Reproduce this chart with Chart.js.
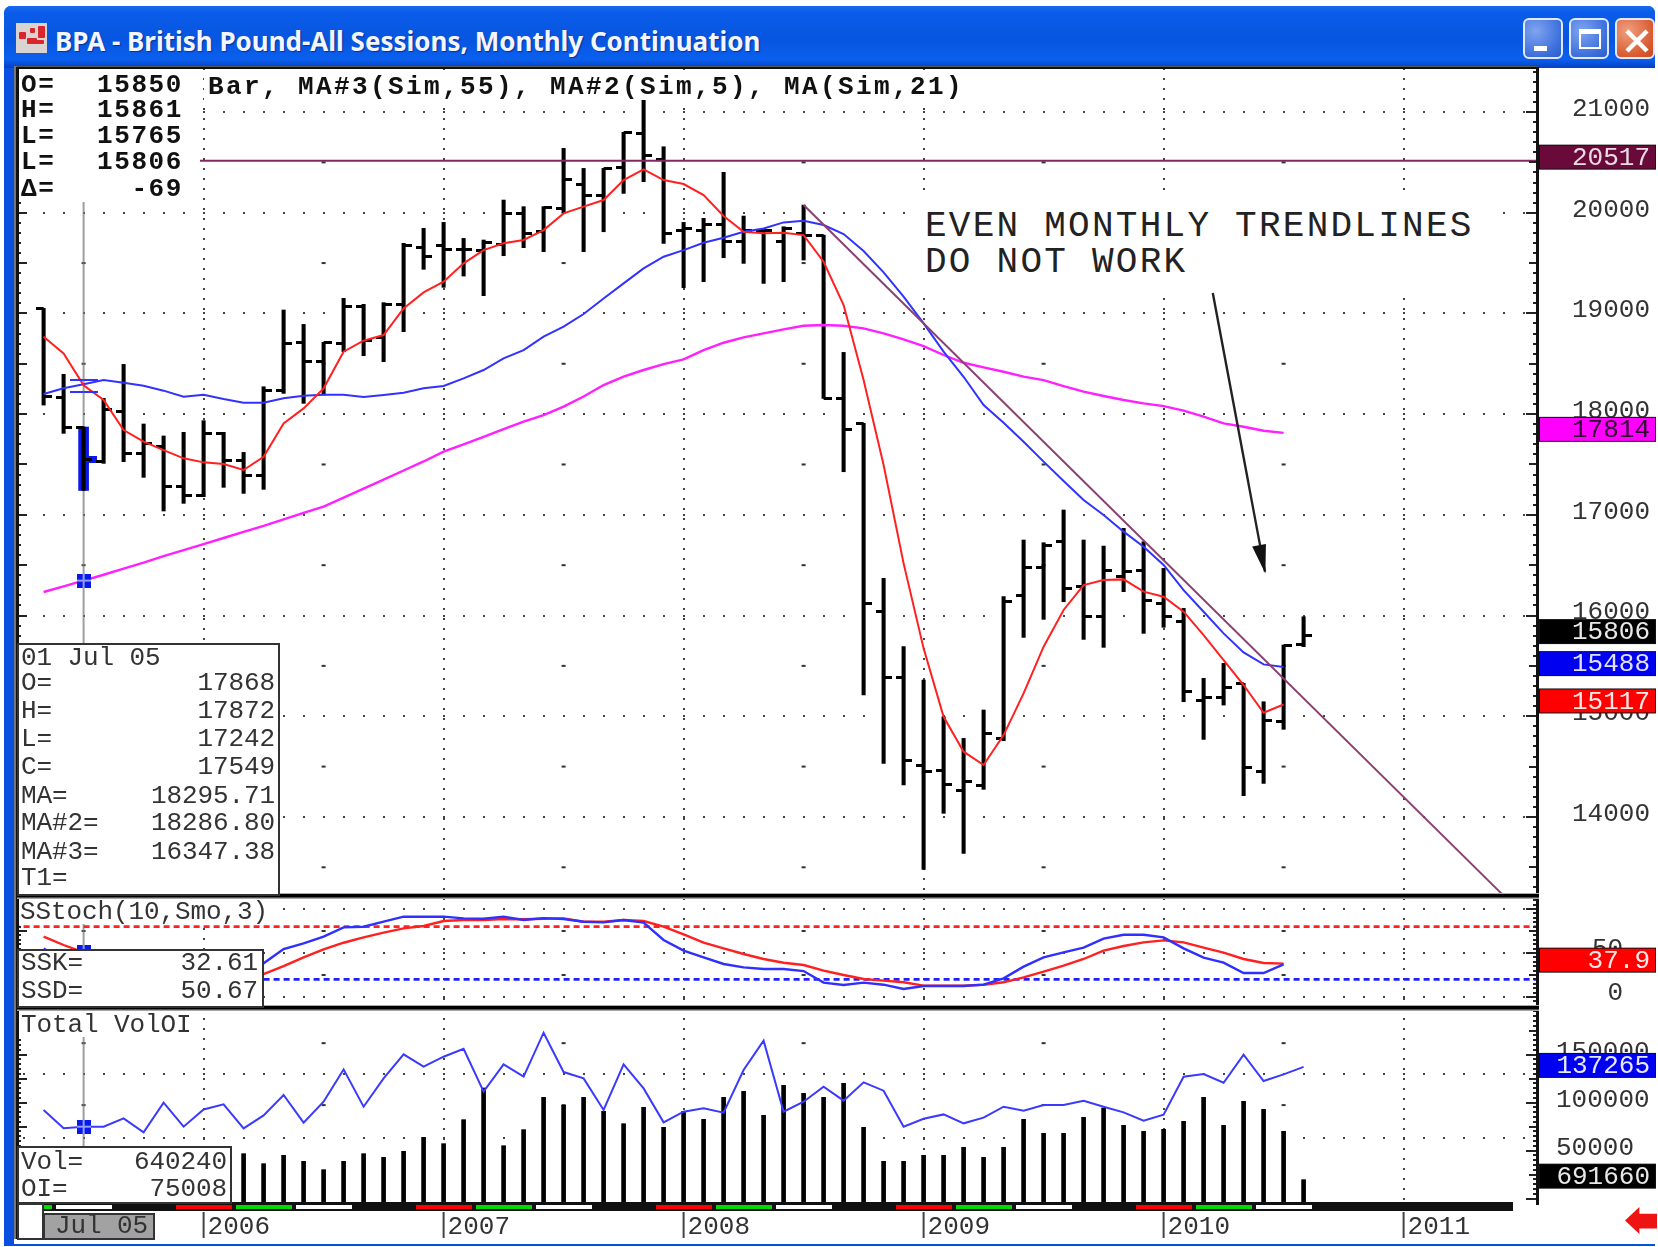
<!DOCTYPE html>
<html>
<head>
<meta charset="utf-8">
<script src="https://cdn.jsdelivr.net/npm/chart.js@4/dist/chart.umd.min.js"></script>
<style>
html,body{margin:0;padding:0;background:#fff;width:1658px;height:1247px;overflow:hidden}
#app{position:absolute;left:0;top:0;width:1658px;height:1247px;filter:blur(.45px)}
#win{position:absolute;left:4px;top:6px;width:1651px;height:1240px;background:#0a50e0;border-radius:7px 7px 0 0}
#titlebar{position:absolute;left:4px;top:6px;width:1651px;height:62px;border-radius:7px 7px 0 0;background:linear-gradient(#1668ee 0,#0a5ce8 12%,#0755e0 55%,#0a60ee 86%,#0340c4 100%)}
#client{position:absolute;left:14px;top:68px;width:1641px;height:1176px;background:#fff}
#ttl{position:absolute;left:55px;top:23px;font:bold 26px "Noto Sans";color:#f4f6ff;text-shadow:1px 1px 1px #08309a;white-space:nowrap}
#ico{position:absolute;left:16px;top:23px;width:31px;height:30px;background:#d9d4cf;overflow:hidden}
#ico i{position:absolute;background:#d8262c;border-radius:1px}
.btn{position:absolute;top:18px;width:40px;height:41px;box-sizing:border-box;border:2px solid #dfe9ff;border-radius:6px;background:radial-gradient(circle at 30% 30%,#7fa4f0,#3c6fdc 70%,#2c5ccc)}
#bmin i{position:absolute;left:9px;top:26px;width:13px;height:5px;background:#fff}
#bmax i{position:absolute;left:8px;top:9px;width:22px;height:20px;box-sizing:border-box;border:2px solid #fff;border-top-width:5px}
#bcl{background:radial-gradient(circle at 30% 30%,#f0a080,#d85a30 70%,#c84a20)}
#bcl svg{position:absolute;left:7px;top:8px}
canvas{position:absolute;left:0;top:0}
.t{position:absolute;font:26px "Liberation Mono";color:#333;white-space:pre;line-height:28px;letter-spacing:-.1px}
.r{text-align:right}
.b{font-weight:bold;color:#111;letter-spacing:1.6px}
.box{position:absolute;background:#fff;box-sizing:border-box;border:2px solid #333}
.plain{position:absolute;background:#fff}
#jul{position:absolute;left:43px;top:1213px;width:112px;height:27px;background:#a2a2a2;box-sizing:border-box;border:2px solid #333}
#sq{position:absolute;left:17px;top:1203px;width:27px;height:37px;background:#fff;box-sizing:border-box;border:2px solid #333}
#back{position:absolute;left:1625px;top:1207px;width:32px;height:27px;background:#ee1414;clip-path:polygon(0 50%,45% 0,45% 25%,100% 25%,100% 80%,45% 80%,45% 100%)}
</style>
</head>
<body>
<div id="app">
<div id="win"></div>
<div id="titlebar"></div>
<div id="client"></div>
<div id="ico"><i style="left:3px;top:9px;width:7px;height:7px"></i><i style="left:14px;top:5px;width:5px;height:5px"></i><i style="left:22px;top:3px;width:7px;height:12px"></i><i style="left:11px;top:15px;width:10px;height:6px"></i><i style="left:20px;top:17px;width:8px;height:4px"></i></div>
<div id="ttl">BPA - British Pound-All Sessions, Monthly Continuation</div>
<div class="btn" id="bmin" style="left:1523px"><i></i></div>
<div class="btn" id="bmax" style="left:1569px"><i></i></div>
<div class="btn" id="bcl" style="left:1615px"><svg width="26" height="26"><path d="M3 3L23 23M23 3L3 23" stroke="#fff" stroke-width="4.5"/></svg></div>
<canvas id="c" width="1658" height="1247"></canvas>

<div class="plain" style="left:19px;top:70px;width:181px;height:130px"></div>
<div class="t b" style="left:21px;top:71px">O=</div><div class="t b r" style="left:83px;width:100px;top:71px">15850</div>
<div class="t b" style="left:21px;top:96px">H=</div><div class="t b r" style="left:83px;width:100px;top:96px">15861</div>
<div class="t b" style="left:21px;top:122px">L=</div><div class="t b r" style="left:83px;width:100px;top:122px">15765</div>
<div class="t b" style="left:21px;top:148px">L=</div><div class="t b r" style="left:83px;width:100px;top:148px">15806</div>
<div class="t b" style="left:21px;top:175px">&#916;=</div><div class="t b r" style="left:83px;width:100px;top:175px">-69</div>
<div class="plain" style="left:204px;top:70px;width:760px;height:30px"></div>
<div class="t b" style="left:208px;top:73px;letter-spacing:2.4px">Bar, MA#3(Sim,55), MA#2(Sim,5), MA(Sim,21)</div>

<div class="plain" style="left:916px;top:195px;width:578px;height:96px"></div>
<div class="t" style="left:925px;top:209px;font-size:36px;line-height:36px;letter-spacing:2.25px;color:#222">EVEN MONTHLY TRENDLINES
DO NOT WORK</div>

<div class="box" style="left:17px;top:643px;width:263px;height:253px"></div>
<div class="t" style="left:21px;top:644px">01 Jul 05</div>
<div class="t" style="left:21px;top:669px">O=</div><div class="t r" style="left:150px;width:125px;top:669px">17868</div>
<div class="t" style="left:21px;top:697px">H=</div><div class="t r" style="left:150px;width:125px;top:697px">17872</div>
<div class="t" style="left:21px;top:725px">L=</div><div class="t r" style="left:150px;width:125px;top:725px">17242</div>
<div class="t" style="left:21px;top:753px">C=</div><div class="t r" style="left:150px;width:125px;top:753px">17549</div>
<div class="t" style="left:21px;top:782px">MA=</div><div class="t r" style="left:130px;width:145px;top:782px">18295.71</div>
<div class="t" style="left:21px;top:809px">MA#2=</div><div class="t r" style="left:130px;width:145px;top:809px">18286.80</div>
<div class="t" style="left:21px;top:838px">MA#3=</div><div class="t r" style="left:130px;width:145px;top:838px">16347.38</div>
<div class="t" style="left:21px;top:864px">T1=</div>

<div class="plain" style="left:19px;top:899px;width:262px;height:25px"></div>
<div class="t" style="left:20px;top:898px">SStoch(10,Smo,3)</div>
<div class="box" style="left:17px;top:949px;width:247px;height:59px"></div>
<div class="t" style="left:21px;top:949px">SSK=</div><div class="t r" style="left:130px;width:128px;top:949px">32.61</div>
<div class="t" style="left:21px;top:977px">SSD=</div><div class="t r" style="left:130px;width:128px;top:977px">50.67</div>

<div class="plain" style="left:19px;top:1011px;width:175px;height:26px"></div>
<div class="t" style="left:21px;top:1011px">Total VolOI</div>
<div class="box" style="left:17px;top:1146px;width:215px;height:58px"></div>
<div class="t" style="left:21px;top:1148px">Vol=</div><div class="t r" style="left:100px;width:127px;top:1148px">640240</div>
<div class="t" style="left:21px;top:1175px">OI=</div><div class="t r" style="left:100px;width:127px;top:1175px">75008</div>

<div id="sq"></div>
<div id="jul"></div>
<div class="t" style="left:55px;top:1212px">Jul 05</div>
<div id="back"></div>
</div>
<script>
// ---------- monthly bars, May 2005 (index 0) to Aug 2010 (index 63) ----------
const opens=[19050,18167,17868,17534,18024,17610,17677,17286,17190,17809,17544,17389,18239,18713,18521,18703,19067,18762,19093,19656,19679,19636,19629,19686,19994,19812,20043,20285,20169,20450,20788,20530,19828,19828,19878,19712,19828,19712,19795,19778,18156,17902,16038,15386,14506,14466,14267,14317,14780,16197,16475,16733,16293,15995,16392,16452,16121,15939,15161,15187,15326,14449,14946,15714];
const highs=[19050,18395,17872,18157,18494,17902,17783,17819,17935,17819,17620,18272,19034,18891,18713,19150,19090,19107,19696,19845,19904,19745,19729,20126,20060,20060,20639,20440,20440,20798,21119,20655,19904,19944,20401,19967,19828,19861,20076,19778,18613,17908,16369,15691,15360,14995,14780,15062,16187,16750,16723,17048,16750,16690,16866,16733,16468,16071,15376,15525,15326,15144,15707,15988];
const lows=[18090,17809,17242,17511,17528,17372,17038,17114,17180,17273,17213,17253,18206,18107,18190,18620,18580,18521,18819,19438,19259,19371,19176,19573,19653,19613,19993,19613,19811,20192,20308,19695,19255,19315,19553,19497,19298,19315,19530,18156,17428,15211,14532,14317,13480,14036,13638,14274,14757,15783,15962,16137,15763,15684,16237,15823,15883,15144,14770,15111,14211,14333,14870,15691];
const closes=[18173,17869,17549,18041,17610,17710,17286,17190,17809,17544,17389,18233,18703,18521,18713,19067,18736,19093,19679,19570,19636,19636,19702,19994,19795,20053,20331,20169,20440,20798,20566,19795,19844,19878,19712,19828,19821,19844,19778,18156,17849,16121,15386,14565,14449,14327,14350,14830,16137,16475,16694,16270,15995,16452,16435,16154,15995,15244,15187,15283,14489,14962,15701,15806];
// ---------- moving averages ----------
const ma5=[18769,18603,18287,18140,17842,17726,17643,17561,17521,17504,17445,17577,17908,18057,18256,18620,18729,18785,19050,19209,19315,19497,19629,19696,19729,19828,19993,20060,20126,20324,20430,20324,20285,20175,19967,19811,19795,19801,19778,19513,19083,18338,17495,16518,15674,14995,14648,14516,14813,15227,15691,16055,16303,16353,16359,16237,16187,16038,15806,15558,15310,15035,15117];
const ma21=[18200,18256,18296,18339,18312,18282,18233,18173,18193,18150,18114,18114,18157,18183,18193,18193,18170,18190,18213,18256,18279,18355,18438,18554,18636,18769,18868,18994,19149,19298,19447,19563,19629,19702,19752,19811,19844,19904,19921,19878,19788,19620,19408,19166,18901,18620,18371,18090,17915,17726,17528,17336,17147,16998,16833,16684,16502,16253,16038,15823,15634,15515,15488];
const ma55=[16234,16290,16347,16405,16465,16525,16590,16650,16710,16770,16830,16890,16955,17020,17081,17170,17260,17350,17440,17530,17627,17700,17775,17850,17925,17991,18075,18175,18289,18372,18438,18497,18544,18636,18709,18762,18802,18842,18878,18885,18878,18851,18802,18742,18676,18587,18510,18464,18421,18372,18338,18279,18223,18180,18140,18107,18080,18034,17975,17908,17875,17835,17814];
// ---------- stochastic ----------
const ssk=[55,42,32.61,30,27,25,24,25,28,31,34,38.3,54.5,61,68.6,79.2,79.9,85.6,91.3,91.3,91.3,89.4,89,91.3,87.5,89.6,88.6,85.6,84.8,87.5,84.5,64.8,52.7,45.1,37.5,33.7,31.8,31.8,29.5,16.3,13.6,16.3,14,9.1,12.5,12.5,12.5,14,21.2,34.5,45.1,50.8,56.1,66.3,70.8,70.8,67.8,55.3,44.7,39,27.3,27.3,37.1];
const ssd=[68.6,59.1,50.67,45,40,36,32,29,27.5,26.5,26,26.1,35.2,45.1,54.2,61.7,67.8,73.1,78,80.7,86.4,87.5,87.5,88.6,88.3,89,89.4,85.6,85.6,87.5,86.4,79.9,71.2,61.7,55.3,48.9,43.2,39,36.4,29.9,25,20.5,18.6,16.7,12.9,12.9,12.9,14,16.7,22.3,28.8,35.6,43.2,52.7,58,62.1,64.4,62.1,56.1,50.4,43.2,38.6,37.9];
const stochBands=[80,20];
// ---------- total volume and open interest ----------
const totalVol=[null,null,640240,null,null,null,null,null,null,null,1462000,1166000,1413000,1235000,988000,1235000,1462000,1354000,1531000,1946000,1759000,2470000,3409000,1699000,2174000,3132000,2895000,3132000,2717000,2351000,2836000,2243000,2717000,2480000,3132000,3310000,2598000,3488000,3250000,3132000,3547000,2243000,1235000,1235000,1413000,1413000,1650000,1354000,1650000,2480000,2065000,2065000,2539000,2816000,2302000,2124000,2183000,2421000,3132000,2302000,3013000,2776000,2124000,691660];
const openInt=[92400,73300,75008,75000,83700,69100,100000,75000,93000,98300,73300,86800,108000,79200,101000,134700,95800,125300,150300,137500,147900,156200,111500,139900,127100,172900,131900,125300,92400,139900,114900,79500,90600,94100,89600,134000,164600,90600,101000,116700,102100,121200,112500,75000,83300,87800,78500,84400,95800,91700,97600,97600,102100,95800,89900,81200,87500,127100,129900,120800,150000,122600,129500,137265];
// ---------- axis ticks ----------
const yearIdx=[8,20,32,44,56,68];
const yearLabels=['2006','2007','2008','2009','2010','2011'];
const priceTicks=[14000,15000,16000,17000,18000,19000,20000,21000];
const stochRows=[0,50,100];
const stochLabels=[' 0','50',''];
const oiTicks=[50000,100000,150000];
const volRows=[1930000,3820000];
// ---------- drawn lines ----------
const resistance=[[7.82,20517],[74.67,20517]];
const trendline=[[38,20076],[73,13219]];
const arrow=[[58.46,19203],[61.07,16436]];
const cursorIdx=2;
// ---------- small scale marks and right-hand tags ----------
const markIdx=[2,14,26,38,50,62];
const priceMarks=[13500,14500,15500,16500,17500,18500,19500,20500];
const stochMarks=[25,75];
const oiMarks=[97500,162000];
const tagScales=['y','y','y','y','y','yS','yOI','yV'];
const tagValues=[20517,17814,15806,15488,15117,37.9,137265,691660];
const tagText=['20517','17814','15806','15488','15117','37.9','137265','691660'];
const tagBg=['#6a0a3a','#ff00ff','#000000','#0000f0','#ff0000','#ff0000','#0000f0','#000000'];
const tagFg=['#e8dce2','#300030','#e8e8e8','#e0e0ff','#ffe8e8','#ffe8e8','#e8e8ff','#e8e8e8'];
const stripColors=['#ff0000','#00d800','#ffffff','#000000'];

[opens,highs,lows,closes,totalVol,openInt].forEach(a=>{if(a.length!==64)throw new Error('len '+a.length)});
[ma5,ma21,ma55,ssk,ssd].forEach(a=>{if(a.length!==63)throw new Error('len63 '+a.length)});

function tickCanvas(side,w,h,col){
  const c=document.createElement('canvas');c.width=w;c.height=h;
  const g=c.getContext('2d');g.fillStyle=col;
  if(side==='l')g.fillRect(0,0,w/2,h);else g.fillRect(w/2,0,w/2,h);
  return c;
}
function markerCanvas(){
  const c=document.createElement('canvas');c.width=14;c.height=14;
  const g=c.getContext('2d');g.fillStyle='#0a18e8';g.fillRect(0,0,14,14);
  g.fillStyle='#8fa0ff';g.fillRect(6,0,2,14);g.fillRect(0,6,14,2);
  return c;
}
const pts=a=>a.map((y,x)=>({x,y})).filter(p=>p.y!==null);
const seg=a=>a.map(p=>({x:p[0],y:p[1]}));
const idx=opens.map((_,i)=>i);
const lineDS=(data,color,yAxisID,w,extra)=>Object.assign({type:'line',data,borderColor:color,borderWidth:w||2,pointRadius:0,tension:0,fill:false,yAxisID,xAxisID:'x'},extra||{});
const noPad=s=>{s.paddingTop=0;s.paddingBottom=0;s.paddingLeft=0;s.paddingRight=0;};

const panes={
  id:'panes',
  beforeDatasetsDraw(ch){
    const g=ch.ctx,{x,y,yS,yOI,yV}=ch.scales,a=ch.chartArea;
    g.save();
    g.strokeStyle='#444';g.lineWidth=2;g.setLineDash([2,18]);g.lineDashOffset=14;
    volRows.forEach(v=>{const p=Math.round(yV.getPixelForValue(v));g.beginPath();g.moveTo(a.left,p);g.lineTo(a.right,p);g.stroke();});
    g.setLineDash([]);
    g.fillStyle='#333';
    const mark=(s,v,i)=>g.fillRect(x.getPixelForValue(i)-2,s.getPixelForValue(v)-1,4,2);
    markIdx.forEach(i=>{priceMarks.forEach(v=>mark(y,v,i));stochMarks.forEach(v=>mark(yS,v,i));oiMarks.forEach(v=>mark(yOI,v,i));});
    const cx=x.getPixelForValue(cursorIdx);
    g.strokeStyle='rgba(125,125,125,.75)';g.lineWidth=2;
    g.beginPath();g.moveTo(cx,y.getPixelForValue(20106));g.lineTo(cx,yOI.getPixelForValue(50000));g.stroke();
    g.restore();
  },
  afterDraw(ch){
    const g=ch.ctx,{x,y,yS,yOI,yV}=ch.scales,a=ch.chartArea;
    g.save();
    const A=ch.data.datasets.find(d=>d.label==='arrow').data;
    const x0=x.getPixelForValue(A[0].x),y0=y.getPixelForValue(A[0].y),x1=x.getPixelForValue(A[1].x),y1=y.getPixelForValue(A[1].y);
    const ang=Math.atan2(y1-y0,x1-x0);
    g.translate(x1,y1);g.rotate(ang);g.fillStyle='#111';
    g.beginPath();g.moveTo(2,0);g.lineTo(-27,-6);g.lineTo(-27,8);g.closePath();g.fill();
    g.setTransform(1,0,0,1,0,0);
    g.strokeStyle='#222';g.lineWidth=2;
    const ticks=(s,step,long,mid)=>{
      for(let v=Math.ceil(s.min/step)*step;v<=s.max;v+=step){
        const p=Math.round(s.getPixelForValue(v));
        const L=(v%long===0)?11:(v%mid===0)?8:4;
        const LL=(v%mid===0)?10:4;
        g.beginPath();g.moveTo(a.right-L,p);g.lineTo(a.right,p);g.moveTo(a.left,p);g.lineTo(a.left+LL,p);g.stroke();
      }
    };
    ticks(y,100,1000,500);ticks(yS,5,50,25);ticks(yOI,5000,50000,25000);
    const hline=(p)=>{g.fillStyle='#a8a8a8';g.fillRect(a.left,p-3,a.right-a.left+2,6);g.fillStyle='#000';g.fillRect(a.left,p-2,a.right-a.left+2,3.5);};
    g.fillStyle='#777';g.fillRect(a.left-3,a.top-2,3,a.bottom-a.top+38);
    g.fillStyle='#111';g.fillRect(a.left-1,a.top-1,3,a.bottom-a.top+37);
    g.fillStyle='#111';g.fillRect(a.right-1,a.top-1,3,a.bottom-a.top+3);
    g.fillStyle='#555';g.fillRect(a.left,a.top-2,a.right-a.left,2);
    g.fillStyle='#111';g.fillRect(a.left,a.top-1,a.right-a.left+1,2);
    hline(y.bottom);hline(yS.bottom);
    g.fillStyle='#111';g.fillRect(a.left,a.bottom-1,1496,9);
    for(let k=-3;k<23;k++){
      const c=stripColors[((k%4)+4)%4],i0=6.62+3*k;
      if(c==='#000000')continue;
      const xa=Math.max(x.getPixelForValue(i0),a.left+26),xb=x.getPixelForValue(i0+3)-4;
      if(xb>xa&&xa<1320){g.fillStyle=c;g.fillRect(xa,a.bottom+2,xb-xa,4);}
    }
    g.strokeStyle='#444';g.lineWidth=2;
    yearIdx.forEach(i=>{const p=x.getPixelForValue(i);g.beginPath();g.moveTo(p,a.bottom+9);g.lineTo(p,a.bottom+35);g.stroke();});
    g.textAlign='right';g.textBaseline='middle';g.font='26px "Liberation Mono"';
    tagValues.forEach((v,i)=>{
      const s=ch.scales[tagScales[i]],cy=s.getPixelForValue(v)-(tagScales[i]==='yOI'?1.5:3.5);
      g.fillStyle='#111';g.fillRect(a.right+2,cy-12.5,117,25);
      g.fillStyle=tagBg[i];g.fillRect(a.right+3,cy-11.5,115,23);
      g.fillStyle=tagFg[i];g.fillText(tagText[i],1650,cy+1);
    });
    g.restore();
  }
};

new Chart(document.getElementById('c'),{
  type:'line',
  data:{datasets:[
    lineDS(pts(ma5),'#ff2020','y',2,{order:2}),
    lineDS(pts(ma21),'#3232ff','y',2,{order:3}),
    lineDS(pts(ma55),'#ff20ff','y',2.4,{order:4}),
    lineDS(seg(resistance),'#82285e','y',2,{order:1}),
    lineDS(seg(trendline),'#8a4070','y',2,{order:1}),
    lineDS(seg(arrow),'#222','y',2.4,{order:0,label:'arrow'}),
    lineDS([{x:-2,y:stochBands[0]},{x:75,y:stochBands[0]}],'#ff2020','yS',2.6,{borderDash:[6,4],order:9}),
    lineDS([{x:-2,y:stochBands[1]},{x:75,y:stochBands[1]}],'#2020ff','yS',2.6,{borderDash:[6,4],order:9}),
    lineDS(pts(ssd),'#ff2020','yS',2.4,{order:6}),
    lineDS(pts(ssk),'#2f2fff','yS',2.4,{order:5}),
    lineDS(pts(openInt),'#3a3aff','yOI',2,{order:2}),
    {type:'line',data:[{x:cursorIdx,y:ma55[cursorIdx]}],yAxisID:'y',showLine:false,pointStyle:markerCanvas(),order:0},
    {type:'line',data:[{x:cursorIdx,y:openInt[cursorIdx]}],yAxisID:'yOI',showLine:false,pointStyle:markerCanvas(),order:0},
    {type:'line',data:[{x:cursorIdx,y:ssd[cursorIdx]}],yAxisID:'yS',showLine:false,pointStyle:markerCanvas(),order:0},
    {type:'line',data:[{x:cursorIdx,y:18340},{x:cursorIdx,y:18215}],yAxisID:'y',showLine:false,pointStyle:tickCanvas('r',28,2,'#3232ff'),order:1},
    {type:'line',data:[{x:cursorIdx,y:18340},{x:cursorIdx,y:18215}],yAxisID:'y',showLine:false,pointStyle:tickCanvas('l',28,2,'#3232ff'),order:1},
    {type:'line',data:[{x:cursorIdx,y:closes[cursorIdx]}],yAxisID:'y',showLine:false,pointStyle:tickCanvas('r',26,7,'#0a18e8'),order:8},
    {type:'bar',data:idx.map(i=>({x:i,y:[lows[i],highs[i]]})),yAxisID:'y',backgroundColor:'#000',barThickness:3.4,grouped:false,order:7},
    {type:'line',data:idx.map(i=>({x:i,y:opens[i]})),yAxisID:'y',showLine:false,pointStyle:tickCanvas('l',16,3,'#000'),order:7},
    {type:'line',data:idx.map(i=>({x:i,y:closes[i]})),yAxisID:'y',showLine:false,pointStyle:tickCanvas('r',16,3,'#000'),order:7},
    {type:'bar',data:[{x:cursorIdx,y:[lows[cursorIdx],highs[cursorIdx]]}],yAxisID:'y',backgroundColor:'#0a18e8',barThickness:10,grouped:false,order:8},
    {type:'bar',data:pts(totalVol),yAxisID:'yV',backgroundColor:'#000',barThickness:4,grouped:false,order:7}
  ]},
  options:{
    responsive:false,animation:false,events:[],
    layout:{padding:{left:17,right:3,top:68,bottom:8}},
    plugins:{legend:{display:false},tooltip:{enabled:false},title:{display:false}},
    scales:{
      x:{type:'linear',position:'bottom',offset:false,min:-1.33,max:74.67,
        afterBuildTicks:s=>{s.ticks=yearIdx.map(v=>({value:v}));},
        afterFit:s=>{s.height=36;noPad(s);},
        grid:{color:'#444',lineWidth:2,drawTicks:false,offset:false},
        border:{display:false,dash:[2,8],dashOffset:0},
        ticks:{autoSkip:false,maxRotation:0,minRotation:0,align:'start',labelOffset:4,padding:9,color:'#333',font:{family:'"Liberation Mono"',size:26},
          callback:v=>yearLabels[yearIdx.indexOf(v)]}},
      y:{type:'linear',position:'right',stack:'panes',stackWeight:828,weight:1,min:13215,max:21437,
        afterBuildTicks:s=>{s.ticks=priceTicks.map(v=>({value:v}));},
        afterFit:s=>{s.width=118;noPad(s);},
        grid:{color:'#444',lineWidth:2,drawTicks:false},
        border:{display:false,dash:[2,18],dashOffset:14},
        ticks:{autoSkip:false,crossAlign:'near',padding:35,labelOffset:-3,color:'#333',font:{family:'"Liberation Mono"',size:26},callback:v=>String(v)}},
      yS:{type:'linear',position:'right',stack:'panes',stackWeight:112,weight:2,min:-12.5,max:114.8,
        afterBuildTicks:s=>{s.ticks=stochRows.map(v=>({value:v}));},
        afterFit:s=>{s.width=118;noPad(s);},
        grid:{color:'#444',lineWidth:2,drawTicks:false},
        border:{display:false,dash:[2,18],dashOffset:14},
        ticks:{autoSkip:false,crossAlign:'near',padding:55,labelOffset:-4,color:'#333',font:{family:'"Liberation Mono"',size:26},callback:v=>stochLabels[stochRows.indexOf(v)]}},
      yOI:{type:'linear',position:'right',stack:'panes',stackWeight:195,weight:3,min:-4479,max:198630,
        afterBuildTicks:s=>{s.ticks=oiTicks.map(v=>({value:v}));},
        afterFit:s=>{s.width=118;noPad(s);},
        grid:{display:false,drawTicks:false},
        border:{display:false},
        ticks:{autoSkip:false,crossAlign:'near',padding:19,labelOffset:-3,color:'#333',font:{family:'"Liberation Mono"',size:26},callback:v=>String(v)}},
      yV:{type:'linear',display:false,position:'right',offset:false,min:0,max:33641400,afterFit:noPad}
    }
  },
  plugins:[panes]
});
</script>
</body>
</html>
